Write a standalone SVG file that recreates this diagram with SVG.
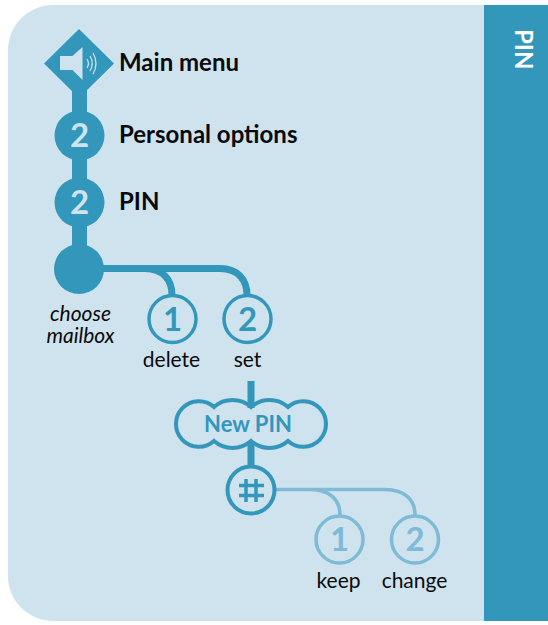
<svg xmlns="http://www.w3.org/2000/svg" width="548" height="625" viewBox="0 0 548 625">
<style>
text{font-family:"Lato","Noto Sans",sans-serif}
.h{font-size:24px;font-weight:700;fill:#0a0a0a}
.l{font-size:21px;fill:#0a0a0a;text-anchor:middle}
.i{font-size:21px;font-style:italic;fill:#0a0a0a;text-anchor:middle}
.n{font-size:33px;font-weight:700;text-anchor:middle}
.d{fill:#3297bb}.pale{fill:#cfe3ef}
.c{fill:none;stroke:#3297bb}
.f{fill:none;stroke:#7fbad6}
.ds{fill:#3297bb}.fs{fill:#7fbad6}
.side{font-size:24px;font-weight:700;fill:#fff}
.np{font-size:22px;font-weight:700;text-anchor:middle}
</style>
<path class="pale" d="M548 5H53A45 45 0 0 0 8 50V576A45 45 0 0 0 53 621H548Z"/>
<rect class="d" x="484" y="5" width="64" height="616"/>
<text class="side" transform="translate(515,29) rotate(90)">PIN</text>
<g id="connectors">
<path class="c" stroke-width="15" d="M79.500 85V250"/>
<path class="c" stroke-width="7" d="M100 268.500H145C163 268.500 172 280 172 295M100 268.500H220C238 268.500 247 280 247 295"/>
<path class="c" stroke-width="7" d="M251 381V408M251 441V468"/>
<path class="f" stroke-width="3.500" d="M275 489.500H310C330 489.500 340 500 340 515M275 489.500H385C405 489.500 415 500 415 515"/>
</g>
<g id="main-menu">
<path class="d" d="M79 29L114 63.500L79 98L44 63.500Z"/>
<path class="pale" d="M60 56H72.500L82.500 47V80L72.500 70H60Z"/>
<path fill="none" stroke="#cfe3ef" stroke-width="1.200" d="M87 59Q90 63.500 87 68M90 56Q94.500 63.500 90 71M93 53Q99 63.500 93 74"/>
<text class="h" x="119" y="71">Main menu</text>
</g>
<g id="personal-options">
<circle class="d" cx="79.500" cy="135.500" r="25"/>
<text class="n" x="79.500" y="147" fill="#cfe3ef">2</text>
<text class="h" x="119" y="143">Personal options</text>
</g>
<g id="pin">
<circle class="d" cx="79.500" cy="202.500" r="25"/>
<text class="n" x="79.500" y="214" fill="#cfe3ef">2</text>
<text class="h" x="119" y="210">PIN</text>
</g>
<g id="choose-mailbox">
<circle class="d" cx="79" cy="269" r="25"/>
<text class="i" x="80.500" y="321">choose</text>
<text class="i" x="80.500" y="343">mailbox</text>
</g>
<g id="delete">
<circle class="c" stroke-width="3.500" cx="172.500" cy="319" r="23.500"/>
<text class="n ds" x="172.500" y="331">1</text>
<text class="l" x="171.500" y="367">delete</text>
</g>
<g id="set">
<circle class="c" stroke-width="3.500" cx="247.500" cy="319" r="23.500"/>
<text class="n ds" x="247.500" y="331">2</text>
<text class="l" x="247.500" y="367">set</text>
</g>
<g id="new-pin">
<path class="c" stroke-width="4" d="M214 407A22.800 22.800 0 1 0 214 441A28 28 0 0 0 251 441A28 28 0 0 0 288 441A22.800 22.800 0 1 0 288 407A28 28 0 0 0 251 407A28 28 0 0 0 214 407Z"/>
<text x="248" y="432" class="np ds">New PIN</text>
</g>
<g id="hash">
<circle class="c" stroke-width="4" cx="251" cy="490" r="23.500"/>
<path class="c" stroke-width="3.500" d="M246 479V502M256 479V502M239 485.500H264M239 495.500H264"/>
</g>
<g id="keep">
<circle class="f" stroke-width="3.500" cx="339.500" cy="539.500" r="23.500"/>
<text class="n fs" x="339.500" y="551">1</text>
<text class="l" x="338.500" y="588">keep</text>
</g>
<g id="change">
<circle class="f" stroke-width="3.500" cx="415" cy="539.500" r="23.500"/>
<text class="n fs" x="415" y="551">2</text>
<text class="l" x="414.500" y="588">change</text>
</g>
</svg>
